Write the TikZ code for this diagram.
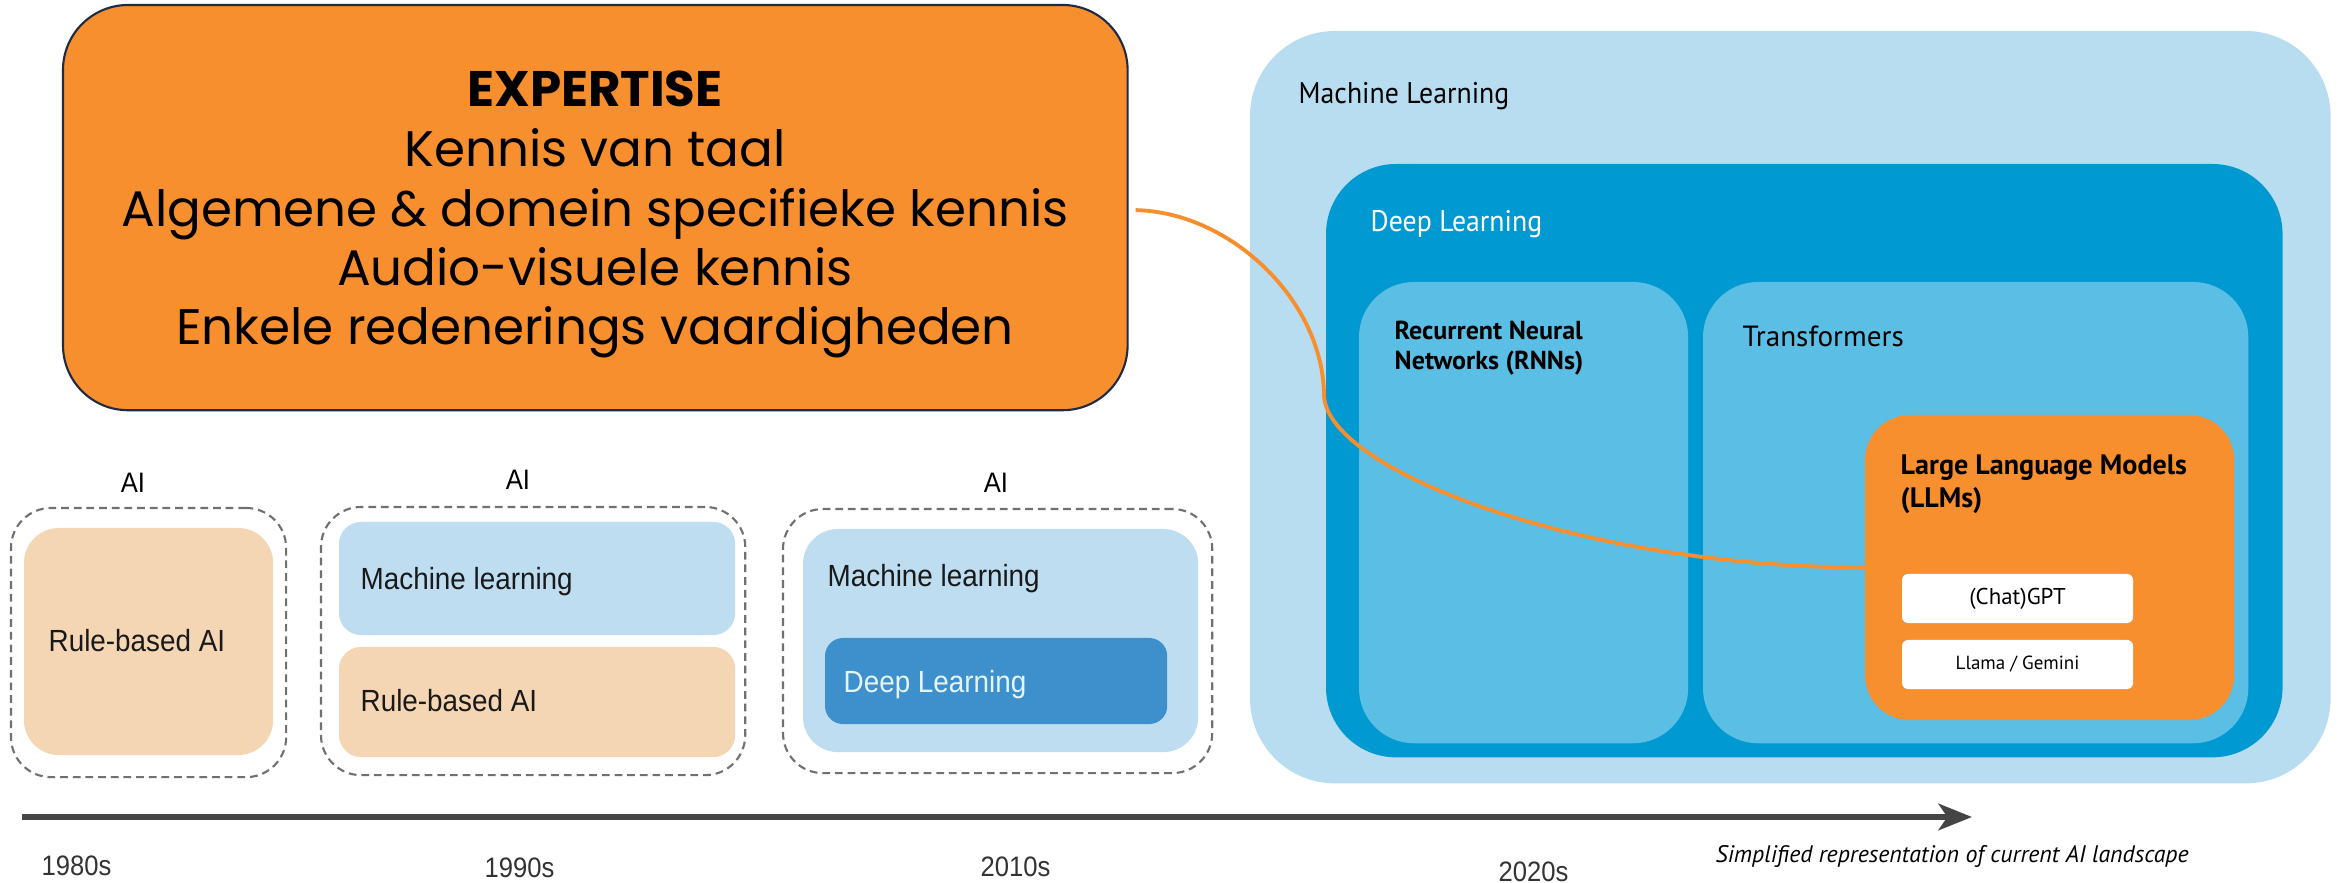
\documentclass[tikz,border=0pt]{standalone}
\usepackage{fontspec}
\usetikzlibrary{arrows.meta}
\newfontfamily\popf{Poppins}
\newfontfamily\arif[FakeStretch=0.91]{Liberation Sans}
\newfontfamily\ptsf{PT Sans}
\newfontfamily\ptsc[FakeStretch=0.93]{PT Sans}
\definecolor{orangeA}{HTML}{F78F2E}
\definecolor{navyA}{HTML}{1F2A44}
\definecolor{mlblue}{HTML}{B9DDF0}
\definecolor{dlblue}{HTML}{0099D2}
\definecolor{subblue}{HTML}{5BBEE5}
\definecolor{peach}{HTML}{F5D6B4}
\definecolor{tlblue}{HTML}{BEDDF0}
\definecolor{tldl}{HTML}{3E90CC}
\definecolor{dashgray}{HTML}{707070}
\definecolor{axisgray}{HTML}{454545}
\definecolor{dltext}{HTML}{E3F4FB}
\definecolor{yeargray}{HTML}{333333}
\begin{document}
\begin{tikzpicture}[x=0.01cm,y=-0.01cm,
  box/.style={rectangle, inner sep=0pt, outer sep=0pt, anchor=north west},
  dashbox/.style={box, draw=dashgray, line width=0.6pt, dash pattern=on 2.2pt off 1.4pt, rounded corners=0.4cm},
  lbl/.style={inner sep=0pt, anchor=base west},
  clbl/.style={inner sep=0pt, anchor=base},
  exptxt/.style={clbl, font=\popf\fontsize{14.2pt}{16.8pt}\selectfont},
  tltxt/.style={lbl, font=\arif\fontsize{8.7pt}{10pt}\selectfont, text=black!90},
  ailbl/.style={clbl, font=\arif\fontsize{8pt}{10pt}\selectfont},
  yearlbl/.style={lbl, font=\arif\fontsize{8pt}{10pt}\selectfont, text=yeargray},
  rtxt/.style={lbl, font=\ptsc\fontsize{8.5pt}{10pt}\selectfont},
  link/.style={draw=orangeA, line width=1.1pt},
  timeline/.style={draw=axisgray, line width=1.7pt, -{Stealth[length=9.5pt,width=7.5pt,inset=2.5pt]}}
]
\useasboundingbox (0,0) rectangle (2341,883);
\fill[white] (0,0) rectangle (2341,883);

% ---------- Expertise box ----------
\node[box, fill=orangeA, draw=navyA, line width=0.6pt, rounded corners=0.65cm,
      minimum width=10.64cm, minimum height=4.05cm] (exp) at (63,5) {};
\node[exptxt, font=\popf\bfseries\fontsize{14.2pt}{16.8pt}\selectfont] (e0) at (595,107) {EXPERTISE};
\node[exptxt] (e1) at (595,167) {Kennis van taal};
\node[exptxt] (e2) at (595,227) {Algemene \& domein specifieke kennis};
\node[exptxt] (e3) at (595,286) {Audio-visuele kennis};
\node[exptxt] (e4) at (595,345) {Enkele redenerings vaardigheden};

% ---------- Current AI landscape ----------
\node[box, fill=mlblue, rounded corners=0.85cm, minimum width=10.80cm, minimum height=7.52cm] (ml) at (1250,31) {};
\node[rtxt] (mlt) at (1298,104) {Machine Learning};
\node[box, fill=dlblue, rounded corners=0.7cm, minimum width=9.56cm, minimum height=5.93cm] (dl) at (1326,164) {};
\node[rtxt, text=white] (dlt) at (1370,232) {Deep Learning};
\node[box, fill=subblue, rounded corners=0.55cm, minimum width=3.29cm, minimum height=4.61cm] (rnn) at (1359,282) {};
\node[lbl, font=\ptsf\bfseries\fontsize{7.4pt}{8pt}\selectfont] (rnnt1) at (1394,340) {Recurrent Neural};
\node[lbl, font=\ptsf\bfseries\fontsize{7.4pt}{8pt}\selectfont] (rnnt2) at (1394,370) {Networks (RNNs)};
\node[box, fill=subblue, rounded corners=0.55cm, minimum width=5.45cm, minimum height=4.61cm] (tr) at (1703,282) {};
\node[lbl, font=\ptsf\fontsize{8.3pt}{10pt}\selectfont] (trt) at (1742,347) {Transformers};
\node[box, fill=orangeA, rounded corners=0.45cm, minimum width=3.69cm, minimum height=3.05cm] (llm) at (1865,415) {};
\node[lbl, font=\ptsf\bfseries\fontsize{8pt}{10pt}\selectfont] (llmt1) at (1900,475) {Large Language Models};
\node[lbl, font=\ptsf\bfseries\fontsize{8pt}{10pt}\selectfont] (llmt2) at (1900,508) {(LLMs)};
\node[box, fill=white, rounded corners=0.06cm, minimum width=2.31cm, minimum height=0.49cm,
      font=\ptsf\fontsize{6.5pt}{8pt}\selectfont] (gpt) at (1902,574) {(Chat)GPT};
\node[box, fill=white, rounded corners=0.06cm, minimum width=2.31cm, minimum height=0.49cm,
      font=\ptsf\fontsize{5.4pt}{7pt}\selectfont] (llama) at (1902,640) {Llama / Gemini};

% ---------- Link ----------
\coordinate (lstart) at ([xshift=0.08cm,yshift=-0.025cm]exp.east);
\coordinate (lbend) at (1324,395);
\draw[link] (lstart) .. controls (1230,212) and (1323,300) .. (lbend)
            .. controls (1326,470) and (1580,567) .. (llm.west);

% ---------- Timeline ----------
\node[ailbl] (ai1) at (133,493) {AI};
\node[dashbox, minimum width=2.75cm, minimum height=2.69cm] (d1) at (11,508) {};
\node[box, fill=peach, rounded corners=0.35cm, minimum width=2.49cm, minimum height=2.27cm] (rb1) at (24,528) {};
\node[tltxt] (rb1t) at (48,652) {Rule-based AI};

\node[ailbl] (ai2) at (518,490) {AI};
\node[dashbox, minimum width=4.24cm, minimum height=2.68cm] (d2) at (321,507) {};
\node[box, fill=tlblue, rounded corners=0.22cm, minimum width=3.96cm, minimum height=1.13cm] (ml2) at (339,522) {};
\node[tltxt] (ml2t) at (360,590) {Machine learning};
\node[box, fill=peach, rounded corners=0.22cm, minimum width=3.96cm, minimum height=1.10cm] (rb2) at (339,647) {};
\node[tltxt] (rb2t) at (360,712) {Rule-based AI};

\node[ailbl] (ai3) at (996,493) {AI};
\node[dashbox, minimum width=4.29cm, minimum height=2.64cm] (d3) at (783,509) {};
\node[box, fill=tlblue, rounded corners=0.35cm, minimum width=3.95cm, minimum height=2.23cm] (ml3) at (803,529) {};
\node[tltxt] (ml3t) at (827,587) {Machine learning};
\node[box, fill=tldl, rounded corners=0.18cm, minimum width=3.42cm, minimum height=0.86cm] (dl3) at (825,638) {};
\node[tltxt, text=dltext] (dl3t) at (843,693) {Deep Learning};

\coordinate (tls) at (22,817);
\coordinate (tle) at (1972,817);
\draw[timeline] (tls) -- (tle);

\node[yearlbl] (y1) at (41,876) {1980s};
\node[yearlbl] (y2) at (484,878) {1990s};
\node[yearlbl] (y3) at (980,877) {2010s};
\node[yearlbl] (y4) at (1498,882) {2020s};
\node[lbl, font=\ptsf\itshape\fontsize{6.8pt}{8pt}\selectfont] (cap) at (1715,863) {Simplified representation of current AI landscape};
\end{tikzpicture}
\end{document}
